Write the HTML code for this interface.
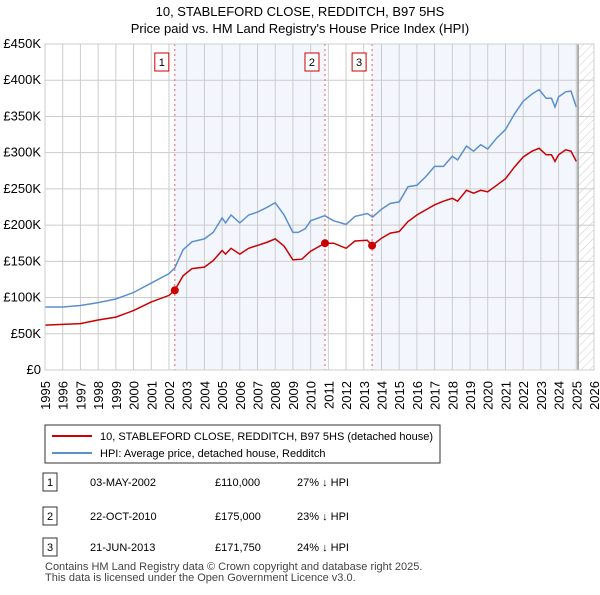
<!DOCTYPE html>
<html><head><meta charset="utf-8"><style>
body{margin:0;background:#fff;font-family:"Liberation Sans",sans-serif;}
svg text{font-family:"Liberation Sans",sans-serif;}
</style></head><body>
<svg width="600" height="590" xmlns="http://www.w3.org/2000/svg">
<text x="300" y="16" text-anchor="middle" font-size="13">10, STABLEFORD CLOSE, REDDITCH, B97 5HS</text>
<text x="300" y="33" text-anchor="middle" font-size="13">Price paid vs. HM Land Registry's House Price Index (HPI)</text>
<defs><pattern id="hatch" width="6" height="6" patternUnits="userSpaceOnUse" patternTransform="rotate(45)"><line x1="0" y1="0" x2="0" y2="6" stroke="#ccc" stroke-width="1"/></pattern></defs>
<g id="plot"></g>
<g id="legend">
<rect x="45" y="425" width="395" height="38" fill="#fff" stroke="#333"/>
<line x1="52" y1="436" x2="92" y2="436" stroke="#cc0000" stroke-width="2"/>
<text x="100" y="440" font-size="11">10, STABLEFORD CLOSE, REDDITCH, B97 5HS (detached house)</text>
<line x1="52" y1="453" x2="92" y2="453" stroke="#5b8fd0" stroke-width="2"/>
<text x="100" y="457" font-size="11">HPI: Average price, detached house, Redditch</text>
</g>
<g id="table" font-size="11"></g>
<text x="45" y="570" font-size="11" fill="#444">Contains HM Land Registry data © Crown copyright and database right 2025.</text>
<text x="45" y="581" font-size="11" fill="#444">This data is licensed under the Open Government Licence v3.0.</text>
</svg>
<script>
const hpiYears=[1995,1996,1997,1998,1999,2000,2001,2002,2002.33,2002.8,2003.3,2004,2004.5,2005,2005.2,2005.5,2006,2006.5,2007,2007.5,2008,2008.5,2009,2009.3,2009.7,2010,2010.8,2011.3,2012,2012.5,2013.2,2013.5,2014,2014.5,2015,2015.5,2016,2016.5,2017,2017.5,2018,2018.3,2018.8,2019.2,2019.6,2020,2020.5,2021,2021.5,2022,2022.5,2022.9,2023.3,2023.6,2023.8,2024,2024.4,2024.7,2025];
const hpiValues=[87,87,89,93,98,107,120,133,141,166,177,181,190,210,203,214,203,214,218,224,231,214,190,190,195,206,213,206,201,212,216,211,222,230,232,253,255,267,281,281,295,290,309,302,311,305,320,332,353,371,381,387,375,375,363,377,384,385,363];
const priceYears=[1995,1996,1997,1998,1999,2000,2001,2002,2002.33,2002.8,2003.3,2004,2004.5,2005,2005.2,2005.5,2006,2006.5,2007,2007.5,2008,2008.5,2009,2009.5,2010,2010.8,2011.3,2012,2012.5,2013.2,2013.47,2014,2014.5,2015,2015.5,2016,2016.5,2017,2017.5,2018,2018.3,2018.8,2019.2,2019.6,2020,2020.5,2021,2021.5,2022,2022.5,2022.9,2023.3,2023.6,2023.8,2024,2024.4,2024.7,2025];
const priceValues=[62,63,64,69,73,82,94,103,110,130,140,142,151,165,160,168,160,168,172,176,181,171,152,153,164,175,175,168,178,179,171.75,182,189,191,205,214,221,228,233,237,233,248,244,248,246,255,264,280,294,302,306,297,297,288,297,304,302,288];
const saleYears=[2002.33,2010.81,2013.47];
const saleValues=[110,175,171.75];
const saleLabels=["1","2","3"];
const saleDates=["03-MAY-2002","22-OCT-2010","21-JUN-2013"];
const salePrices=["£110,000","£175,000","£171,750"];
const saleDiffs=["27% ↓ HPI","23% ↓ HPI","24% ↓ HPI"];
const yTicks=[0,50,100,150,200,250,300,350,400,450];
const yTickLabels=["£0","£50K","£100K","£150K","£200K","£250K","£300K","£350K","£400K","£450K"];
const xTicks=[1995,1996,1997,1998,1999,2000,2001,2002,2003,2004,2005,2006,2007,2008,2009,2010,2011,2012,2013,2014,2015,2016,2017,2018,2019,2020,2021,2022,2023,2024,2025,2026];
const dataEnd=2025.1;

const NS="http://www.w3.org/2000/svg";
const L=45,R=594,T=44,B=370;
const x=v=>L+(v-1995)*(R-L)/31;
const y=v=>B-v*(B-T)/450;
const plot=document.getElementById('plot');
function mk(tag,attrs,parent){const e=document.createElementNS(NS,tag);for(const k in attrs)e.setAttribute(k,attrs[k]);(parent||plot).appendChild(e);return e;}

let s=mk('rect',{x:x(saleYears[0]),y:T,width:x(saleYears[1])-x(saleYears[0]),height:B-T,fill:'#eef3fc',opacity:0.7});


s=mk('rect',{x:x(saleYears[2]),y:T,width:x(dataEnd)-x(saleYears[2]),height:B-T,fill:'#eef3fc',opacity:0.7});


s=mk('rect',{x:x(dataEnd),y:T,width:R-x(dataEnd),height:B-T,fill:'url(#hatch)'});



yTicks.forEach((t,i)=>{
 const g=mk('line',{x1:L,x2:R,y1:y(t),y2:y(t),stroke:'#ccc','stroke-width':1});
 
 
 const tx=mk('text',{x:L-4,y:y(t)+4,'text-anchor':'end','font-size':13});
 
 
 tx.textContent=yTickLabels[i];
});
xTicks.forEach(t=>{
 const g=mk('line',{x1:x(t),x2:x(t),y1:T,y2:B,stroke:'#ccc','stroke-width':1});
 
 
 const lx=x(t)+5, ly=381;
 const tx=mk('text',{x:lx,y:ly,'text-anchor':'end','font-size':13,transform:'rotate(-90 '+lx+' '+ly+')'});
 
 
 tx.textContent=t;
});
let ln=mk('line',{x1:x(dataEnd),x2:x(dataEnd),y1:T,y2:B,stroke:'#999','stroke-width':1.5});



saleYears.forEach((yr,i)=>{
 const l=mk('line',{x1:x(yr),x2:x(yr),y1:T,y2:B,stroke:'#e06060','stroke-width':1,'stroke-dasharray':'2,3'});
 
 
 const r=mk('rect',{x:x(yr)-20,y:53,width:14,height:18,fill:'#fff',stroke:'#cc0000'});
 
 
 const t=mk('text',{x:x(yr)-13,y:66,'text-anchor':'middle','font-size':11});
 
 
 t.textContent=saleLabels[i];
});

function path(xs,vs){return xs.map((v,i)=>(i?'L':'M')+x(v).toFixed(1)+','+y(vs[i]).toFixed(1)).join('');}
let p=mk('path',{d:path(hpiYears,hpiValues),fill:'none',stroke:'#5b8fd0','stroke-width':1.5});


p=mk('path',{d:path(priceYears,priceValues),fill:'none',stroke:'#cc0000','stroke-width':1.5});


saleYears.forEach((yr,i)=>{
 const c=mk('circle',{cx:x(yr),cy:y(saleValues[i]),r:4,fill:'#cc0000'});
 
 
});
let bd=mk('rect',{x:L,y:T,width:R-L,height:B-T,fill:'none',stroke:'#ccc'});



const tb=document.getElementById('table');
const rowY=[482,516,547];
saleLabels.forEach((lab,i)=>{
 const ry=rowY[i];
 const r=mk('rect',{x:43,y:ry-9,width:14,height:18,fill:'#fff',stroke:'#333'},tb);
 
 
 const cells=[[50,lab,'middle'],[90,saleDates[i],'start'],[215,salePrices[i],'start'],[297,saleDiffs[i],'start']];
 cells.forEach(c=>{
  const t=mk('text',{x:c[0],y:ry+4,'text-anchor':c[2]},tb);
  
  
  t.textContent=c[1];
 });
});
</script>
</body></html>
